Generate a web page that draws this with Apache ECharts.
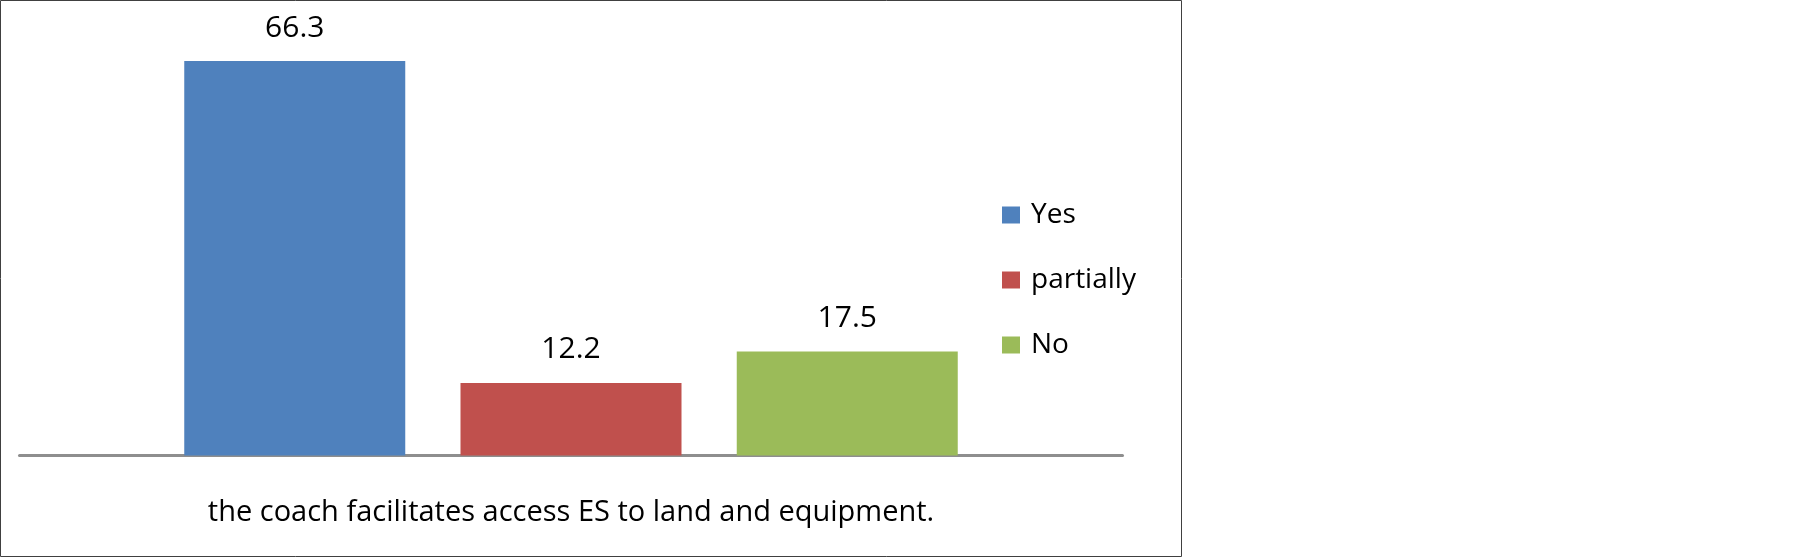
<!DOCTYPE html>
<html>
<head>
<meta charset="utf-8">
<title>coach facilitates access</title>
<script src="https://cdn.jsdelivr.net/npm/echarts@6/dist/echarts.min.js"></script>
<style>
    html, body { margin: 0; padding: 0; background: #fff; }
    #chart { width: 1799px; height: 559px; }
</style>
</head>
<body>
<div id="chart"></div>
<script>
    // data
    var categories = ['the coach facilitates access ES to land and equipment.'];
    var seriesNames = ['Yes', 'partially', 'No'];
    var yesValues = [66.3];
    var partiallyValues = [12.2];
    var noValues = [17.5];
    var colors = ['#4f81bd', '#c0504d', '#9bbb59'];
    var font = '"Open Sans", "DejaVu Sans", sans-serif';

    var chart = echarts.init(document.getElementById('chart'));

    function makeSeries(name, data){
        return {
            name: name,
            type: 'bar',
            barWidth: 221,
            barGap: '25%',
            label: {
                show: true,
                position: 'top',
                distance: 18,
                color: '#000',
                fontSize: 30,
                fontFamily: font
            },
            emphasis: { disabled: true },
            data: data
        };
    }

    chart.setOption({
        animation: false,
        color: colors,
        graphic: [{
            type: 'rect',
            shape: { x: 0.5, y: 0.5, width: 1181, height: 556 },
            style: { fill: 'none', stroke: '#404040', lineWidth: 1 }
        }],
        legend: {
            orient: 'vertical',
            left: 1002,
            top: 201,
            padding: 0,
            itemWidth: 18,
            itemHeight: 17,
            itemGap: 37,
            icon: 'rect',
            textStyle: {
                color: '#000',
                fontSize: 28,
                fontFamily: font,
                padding: [0, 0, 0, 6]
            },
            data: seriesNames
        },
        grid: {
            left: 19.5,
            right: 676.5,
            top: 39,
            bottom: 103.5,
            containLabel: false
        },
        xAxis: {
            type: 'category',
            data: categories,
            axisLine: { lineStyle: { color: '#8e8e8e', width: 3 } },
            axisTick: { show: false },
            axisLabel: {
                margin: 43,
                color: '#000',
                fontSize: 29,
                fontFamily: font
            }
        },
        yAxis: {
            type: 'value',
            min: 0,
            max: 70,
            show: false,
            splitLine: { show: false }
        },
        series: [
            makeSeries(seriesNames[0], yesValues),
            makeSeries(seriesNames[1], partiallyValues),
            makeSeries(seriesNames[2], noValues)
        ]
    });
</script>
</body>
</html>
